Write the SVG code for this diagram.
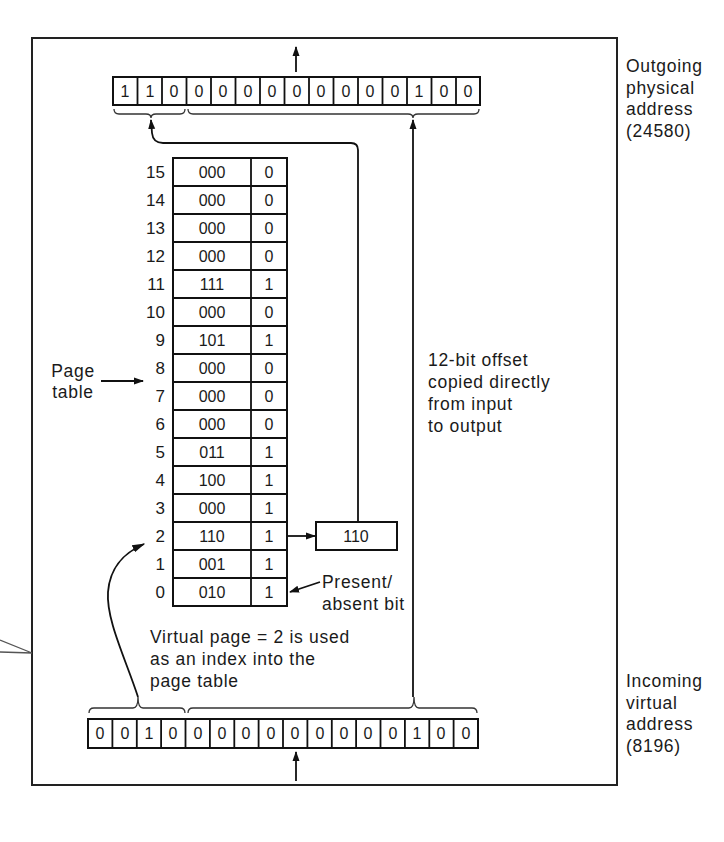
<svg xmlns="http://www.w3.org/2000/svg" width="724" height="842" viewBox="0 0 724 842">
<defs>
<marker id="ah" viewBox="0 0 10 10" refX="9" refY="5" markerWidth="10" markerHeight="10" markerUnits="userSpaceOnUse" orient="auto-start-reverse"><path d="M0,1.5 L10,5 L0,8.5 z" fill="#111"/></marker>
<marker id="ahl" viewBox="0 0 10 10" refX="9" refY="5" markerWidth="13" markerHeight="13" markerUnits="userSpaceOnUse" orient="auto-start-reverse"><path d="M0,2 L10,5 L0,8 z" fill="#111"/></marker>
</defs>
<style>
.t{font-family:"Liberation Sans",Arial,sans-serif;font-size:17.5px;letter-spacing:0.7px;fill:#1a1a1a}
.d{font-family:"Liberation Sans",Arial,sans-serif;font-size:16px;fill:#1a1a1a;text-anchor:middle}
.n{font-family:"Liberation Sans",Arial,sans-serif;font-size:17px;fill:#1a1a1a;text-anchor:end}
.c{fill:#fff;stroke:#111;stroke-width:2}
.ln{fill:none;stroke:#111;stroke-width:1.8}
.br{fill:none;stroke:#333;stroke-width:1.3}
</style>
<rect width="724" height="842" fill="#fff"/>
<g id="frame"><rect x="32" y="38" width="585" height="747" fill="none" stroke="#222" stroke-width="2"/></g>
<g id="outside-lines"><path d="M0,640 L32,653 M0,652 L32,653" fill="none" stroke="#555" stroke-width="1.3"/></g>

<g id="physical-register">
<rect class="c" x="113" y="77" width="367" height="28"/>
<path class="ln" d="M137.5,77V105M162,77V105M186.5,77V105M211,77V105M235.5,77V105M260,77V105M284.5,77V105M309,77V105M333.5,77V105M358,77V105M382.5,77V105M407,77V105M431.5,77V105M456,77V105"/>
<text class="d" y="97"><tspan x="125">1</tspan><tspan x="150">1</tspan><tspan x="174">0</tspan><tspan x="199">0</tspan><tspan x="223">0</tspan><tspan x="248">0</tspan><tspan x="272">0</tspan><tspan x="297">0</tspan><tspan x="321">0</tspan><tspan x="346">0</tspan><tspan x="370">0</tspan><tspan x="395">0</tspan><tspan x="419">1</tspan><tspan x="444">0</tspan><tspan x="468">0</tspan></text>
<path class="br" d="M114,109 Q114,114 119,114 L146,114 Q151,114 151,118 Q151,114 156,114 L180,114 Q185,114 185,109"/>
<path class="br" d="M188,109 Q188,114 193,114 L408,114 Q413,114 413,118 Q413,114 418,114 L474,114 Q479,114 479,109"/>
</g>

<g id="virtual-register">
<rect class="c" x="88" y="719" width="390" height="29"/>
<path class="ln" d="M112.4,719V748M136.8,719V748M161.1,719V748M185.5,719V748M209.9,719V748M234.3,719V748M258.6,719V748M283,719V748M307.4,719V748M331.8,719V748M356.1,719V748M380.5,719V748M404.9,719V748M429.3,719V748M453.6,719V748"/>
<text class="d" y="739"><tspan x="100">0</tspan><tspan x="125">0</tspan><tspan x="149">1</tspan><tspan x="173">0</tspan><tspan x="198">0</tspan><tspan x="222">0</tspan><tspan x="246">0</tspan><tspan x="271">0</tspan><tspan x="295">0</tspan><tspan x="320">0</tspan><tspan x="344">0</tspan><tspan x="368">0</tspan><tspan x="393">0</tspan><tspan x="417">1</tspan><tspan x="441">0</tspan><tspan x="466">0</tspan></text>
<path class="br" d="M89,713 Q89,708 94,708 L133,708 Q138,708 138,697 Q138,708 143,708 L180,708 Q185,708 185,713"/>
<path class="br" d="M188,713 Q188,708 193,708 L409,708 Q414,708 414,697 Q414,708 419,708 L472,708 Q477,708 477,713"/>
</g>

<g id="page-table">
<rect class="c" x="173" y="158" width="114" height="448"/>
<path class="ln" d="M251,158V606M173,186H287M173,214H287M173,242H287M173,270H287M173,298H287M173,326H287M173,354H287M173,382H287M173,410H287M173,438H287M173,466H287M173,494H287M173,522H287M173,550H287M173,578H287"/>
<g class="n">
<text x="165" y="178">15</text><text x="165" y="206">14</text><text x="165" y="234">13</text><text x="165" y="262">12</text><text x="165" y="290">11</text><text x="165" y="318">10</text><text x="165" y="346">9</text><text x="165" y="374">8</text><text x="165" y="402">7</text><text x="165" y="430">6</text><text x="165" y="458">5</text><text x="165" y="486">4</text><text x="165" y="514">3</text><text x="165" y="542">2</text><text x="165" y="570">1</text><text x="165" y="598">0</text>
</g>
<g class="d">
<text x="212" y="178">000</text><text x="212" y="206">000</text><text x="212" y="234">000</text><text x="212" y="262">000</text><text x="212" y="290">111</text><text x="212" y="318">000</text><text x="212" y="346">101</text><text x="212" y="374">000</text><text x="212" y="402">000</text><text x="212" y="430">000</text><text x="212" y="458">011</text><text x="212" y="486">100</text><text x="212" y="514">000</text><text x="212" y="542">110</text><text x="212" y="570">001</text><text x="212" y="598">010</text>
<text x="269" y="178">0</text><text x="269" y="206">0</text><text x="269" y="234">0</text><text x="269" y="262">0</text><text x="269" y="290">1</text><text x="269" y="318">0</text><text x="269" y="346">1</text><text x="269" y="374">0</text><text x="269" y="402">0</text><text x="269" y="430">0</text><text x="269" y="458">1</text><text x="269" y="486">1</text><text x="269" y="514">1</text><text x="269" y="542">1</text><text x="269" y="570">1</text><text x="269" y="598">1</text>
</g>
</g>

<g id="frame-box">
<rect class="c" x="316" y="522" width="81" height="28"/>
<text class="d" x="356" y="542">110</text>
</g>

<g id="connectors">
<path class="ln" d="M296,72 V47" marker-end="url(#ah)"/>
<path class="ln" d="M296,781 V752" marker-end="url(#ah)"/>
<path class="ln" d="M287,536 H315" marker-end="url(#ah)"/>
<path class="ln" d="M358,522 V150 Q358,143 351,143 L163,143 Q153,143 152,133 L151,120" marker-end="url(#ah)"/>
<path class="ln" d="M413,697 V120" marker-end="url(#ah)"/>
<path class="ln" d="M138,697 C126,660 106,620 108,592 C110,565 126,552 144,544" marker-end="url(#ahl)"/>
<path class="ln" d="M101,381 H143" stroke-width="1.3" marker-end="url(#ah)"/>
<path class="ln" d="M320,582 L290,592" stroke-width="1.3" marker-end="url(#ah)"/>
</g>

<g id="labels">
<text class="t" x="73" y="377" text-anchor="middle">Page</text>
<text class="t" x="73" y="398" text-anchor="middle">table</text>
<text class="t" x="322" y="588">Present/</text>
<text class="t" x="322" y="610">absent bit</text>
<text class="t" x="428" y="366">12-bit offset</text>
<text class="t" x="428" y="388">copied directly</text>
<text class="t" x="428" y="410">from input</text>
<text class="t" x="428" y="432">to output</text>
<text class="t" x="150" y="643">Virtual page = 2 is used</text>
<text class="t" x="150" y="665">as an index into the</text>
<text class="t" x="150" y="687">page table</text>
<text class="t" x="626" y="72">Outgoing</text>
<text class="t" x="626" y="94">physical</text>
<text class="t" x="626" y="115">address</text>
<text class="t" x="626" y="137">(24580)</text>
<text class="t" x="626" y="687">Incoming</text>
<text class="t" x="626" y="709">virtual</text>
<text class="t" x="626" y="730">address</text>
<text class="t" x="626" y="752">(8196)</text>
</g>
</svg>
